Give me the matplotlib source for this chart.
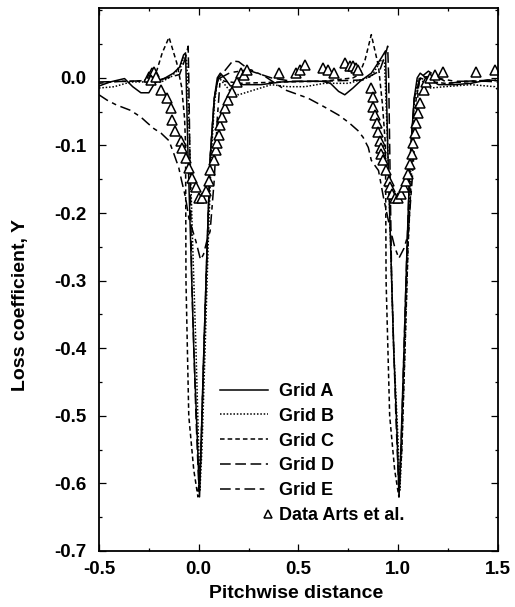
import matplotlib.pyplot as plt
from matplotlib.ticker import MultipleLocator

plt.rcParams['font.family'] = ['Liberation Sans', 'DejaVu Sans']
plt.rcParams['font.weight'] = 'bold'

# Grid A (solid)
xa = [-0.5, -0.444, -0.372, -0.331, -0.29, -0.25, -0.219, -0.168, -0.127, -0.096, -0.076, -0.066,
      -0.055, -0.04, -0.025, -0.009, 0.004, 0.011, 0.026, 0.042, 0.057, 0.078, 0.093, 0.108, 0.129,
      0.159, 0.21, 0.313, 0.415, 0.517, 0.62, 0.66, 0.701, 0.732, 0.773, 0.809, 0.865, 0.916, 0.936,
      0.947, 0.962, 0.977, 0.993, 1.004, 1.013, 1.029, 1.044, 1.059, 1.08, 1.095, 1.11, 1.131,
      1.202, 1.284, 1.366, 1.448, 1.5]
ya = [-0.012, -0.006, -0.001, -0.013, -0.022, -0.022, -0.007, 0.0, 0.007, 0.016, 0.034, 0.037,
      -0.1, -0.25, -0.4, -0.52, -0.62, -0.55, -0.4, -0.25, -0.12, -0.03, 0.0, 0.007, 0.0,
      -0.012, -0.01, -0.01, -0.006, -0.005, -0.005, -0.008, -0.02, -0.025, -0.015, -0.005, 0.007, 0.03, 0.04,
      -0.1, -0.25, -0.4, -0.52, -0.62, -0.55, -0.4, -0.25, -0.12, -0.03, 0.0, 0.007, 0.002,
      -0.01, -0.01, -0.008, -0.003, -0.004]

# Grid B (dotted)
xb = [-0.5, -0.423, -0.342, -0.275, -0.188, -0.137, -0.091, -0.076, -0.06,
      -0.045, -0.03, -0.014, -0.002, 0.006, 0.016, 0.032, 0.047, 0.062, 0.078, 0.093, 0.108,
      0.159, 0.2, 0.364, 0.446, 0.533, 0.63, 0.752, 0.865, 0.916, 0.931,
      0.947, 0.962, 0.977, 0.998, 1.008, 1.018, 1.034, 1.049, 1.064, 1.08, 1.095, 1.11,
      1.162, 1.233, 1.366, 1.484, 1.5]
yb = [-0.015, -0.013, -0.006, -0.006, -0.006, 0.002, 0.016, 0.03, 0.025,
      -0.1, -0.25, -0.4, -0.53, -0.61, -0.55, -0.4, -0.25, -0.12, -0.04, -0.005, -0.002,
      -0.02, -0.025, -0.01, -0.013, -0.013, -0.008, -0.008, 0.002, 0.027, 0.025,
      -0.1, -0.25, -0.4, -0.53, -0.61, -0.55, -0.4, -0.25, -0.12, -0.04, -0.005, -0.002,
      -0.015, -0.013, -0.01, -0.013, -0.018]

# Grid C (short dash)
xc = [-0.5, -0.403, -0.301, -0.229, -0.209, -0.183, -0.149, -0.11, -0.086, -0.071, -0.066,
      -0.064, -0.05, -0.025, -0.004, 0.011, 0.026, 0.042, 0.057, 0.078, 0.098, 0.129, 0.21,
      0.415, 0.62, 0.773, 0.804, 0.834, 0.865, 0.901, 0.921, 0.936,
      0.939, 0.957, 0.982, 1.003, 1.018, 1.034, 1.049, 1.07, 1.09, 1.11, 1.151, 1.233, 1.386, 1.489]
yc = [-0.008, -0.005, -0.005, 0.0, 0.012, 0.037, 0.06, 0.022, -0.013, -0.06, -0.1,
      -0.3, -0.5, -0.58, -0.62, -0.55, -0.4, -0.25, -0.12, -0.03, 0.0, -0.005, -0.008,
      -0.006, -0.005, 0.0, 0.005, 0.027, 0.064, 0.017, -0.04, -0.1,
      -0.3, -0.5, -0.58, -0.62, -0.55, -0.4, -0.25, -0.12, -0.03, 0.0, -0.005, -0.008, -0.005, -0.004]

# Grid D (long dash)
xd = [-0.5, -0.352, -0.199, -0.096, -0.066, -0.053, -0.05, -0.035, -0.014, 0.001, 0.011,
      0.026, 0.042, 0.057, 0.078, 0.098, 0.129, 0.17, 0.2, 0.262, 0.313, 0.364, 0.466, 0.62,
      0.824, 0.906, 0.936, 0.947, 0.952, 0.967, 0.988, 1.003, 1.013, 1.029, 1.044, 1.059,
      1.08, 1.11, 1.151, 1.202, 1.254, 1.335, 1.489]
yd = [-0.006, -0.005, -0.003, 0.005, 0.03, 0.047, 0.0, -0.3, -0.5, -0.61, -0.56,
      -0.4, -0.25, -0.12, -0.03, 0.0, 0.01, 0.025, 0.024, 0.01, 0.005, 0.0, -0.005, -0.005,
      -0.003, 0.01, 0.035, 0.047, 0.0, -0.3, -0.5, -0.61, -0.56, -0.4, -0.25, -0.12,
      -0.03, 0.0, 0.01, 0.0, -0.008, -0.005, -0.003]

# Grid E (dash-dot, wide wake)
xe = [-0.5, -0.459, -0.413, -0.342, -0.29, -0.26, -0.225, -0.188, -0.149, -0.125, -0.1,
      -0.086, -0.066, -0.05, -0.014, 0.009, 0.024, 0.04, 0.057, 0.078, 0.093, 0.108, 0.159,
      0.262, 0.333, 0.435, 0.548, 0.63, 0.701, 0.752, 0.798, 0.824, 0.85, 0.865, 0.891,
      0.901, 0.926, 0.957, 0.982, 1.003, 1.029, 1.049, 1.07, 1.09, 1.105, 1.151, 1.284, 1.438, 1.5]
ye = [-0.025, -0.033, -0.04, -0.048, -0.058, -0.066, -0.075, -0.082, -0.093, -0.112, -0.133,
      -0.152, -0.177, -0.207, -0.242, -0.269, -0.261, -0.242, -0.227, -0.15, -0.06, 0.0, 0.008,
      0.012, 0.002, -0.018, -0.03, -0.043, -0.055, -0.066, -0.078, -0.088, -0.103, -0.122, -0.133,
      -0.137, -0.177, -0.22, -0.25, -0.267, -0.252, -0.232, -0.15, -0.06, 0.0, 0.002, -0.005, -0.005, -0.006]

# Data Arts et al. (triangles)
x_data = [-0.25, -0.234, -0.224, -0.239, -0.215, -0.188,
          -0.158, -0.137, -0.132, -0.117, -0.091, -0.086, -0.066, -0.05, -0.035, -0.014, 0.0,
          0.016, 0.037, 0.05, 0.057, 0.075, 0.085, 0.091, 0.1, 0.108, 0.115, 0.134, 0.149,
          0.167, 0.19, 0.21, 0.226, 0.241,
          0.40, 0.487, 0.507, 0.533, 0.625, 0.65, 0.676, 0.735, 0.76, 0.773, 0.788, 0.798,
          0.865, 0.875, 0.875, 0.885, 0.891, 0.901, 0.911, 0.916, 0.916, 0.926, 0.937, 0.952, 0.957,
          0.967, 0.983, 0.998, 1.013, 1.029, 1.041, 1.049, 1.059, 1.07, 1.075, 1.085, 1.09, 1.1,
          1.11, 1.131, 1.141, 1.161, 1.182, 1.223, 1.392, 1.484]
y_data = [0.001, 0.007, 0.009, -0.003, 0.002, -0.018,
          -0.03, -0.045, -0.063, -0.078, -0.093, -0.103, -0.118, -0.133, -0.148, -0.162, -0.177,
          -0.177, -0.167, -0.152, -0.137, -0.122, -0.107, -0.097, -0.085, -0.07, -0.058, -0.045, -0.033,
          -0.021, -0.006, 0.007, 0.005, 0.012,
          0.007, 0.007, 0.012, 0.019, 0.015, 0.012, 0.007, 0.022, 0.017, 0.017, 0.015, 0.012,
          -0.015, -0.028, -0.043, -0.055, -0.067, -0.08, -0.093, -0.103, -0.112, -0.122, -0.137, -0.152, -0.162,
          -0.172, -0.177, -0.177, -0.172, -0.162, -0.152, -0.142, -0.127, -0.112, -0.097, -0.082, -0.067, -0.052,
          -0.037, -0.018, -0.006, 0.0, 0.005, 0.009, 0.009, 0.012]

fig = plt.figure(figsize=(5.15, 6.07), dpi=100)
ax = fig.add_axes([0.1922, 0.0923, 0.7748, 0.8946])

lw = 1.1
ax.plot(xa, ya, color='black', linestyle='-', linewidth=lw, label='Grid A')
ax.plot(xb, yb, color='black', linestyle=(0, (1, 1.2)), linewidth=lw, label='Grid B')
ax.plot(xc, yc, color='black', linestyle=(0, (3, 2)), linewidth=lw, label='Grid C')
ax.plot(xd, yd, color='black', linestyle=(0, (7, 3)), linewidth=lw, label='Grid D')
ax.plot(xe, ye, color='black', linestyle=(0, (7, 3, 3, 3)), linewidth=lw, label='Grid E')
ax.plot(x_data, y_data, linestyle='none', marker='^', markersize=7, markerfacecolor='white',
        markeredgecolor='black', markeredgewidth=1.1, label='Data Arts et al.')

ax.set_xlim(-0.5, 1.5)
ax.set_ylim(-0.7, 0.1035)
ax.set_yticks([-0.7, -0.6, -0.5, -0.4, -0.3, -0.2, -0.1, 0.0])
ax.set_yticklabels(['-0.7', '-0.6', '-0.5', '-0.4', '-0.3', '-0.2', '-0.1', '0.0'])
ax.set_xticks([-0.5, 0.0, 0.5, 1.0, 1.5])
ax.set_xticklabels(['-0.5', '0.0', '0.5', '1.0', '1.5'])
ax.xaxis.set_minor_locator(MultipleLocator(0.25))
ax.yaxis.set_minor_locator(MultipleLocator(0.05))
ax.tick_params(which='both', direction='in', top=True, right=True, labelsize=13.5)
ax.tick_params(which='major', length=5, width=0.9)
ax.tick_params(which='minor', length=2.2, width=0.9)
ax.tick_params(axis='y', which='major', pad=9)
ax.tick_params(axis='x', which='major', pad=7)
for s in ax.spines.values():
    s.set_linewidth(1.3)

ax.set_xlabel('Pitchwise distance', fontsize=14, fontweight='bold')
ax.set_ylabel('Loss coefficient, Y', fontsize=14, fontweight='bold')
ax.xaxis.set_label_coords(0.495, -0.063)
ax.yaxis.set_label_coords(-0.175, 0.453)

leg = ax.legend(loc='upper left', bbox_to_anchor=(220 / 515, 1 - 383 / 607),
                bbox_transform=fig.transFigure, frameon=False, fontsize=13,
                handlelength=2.66, handletextpad=0.6, labelspacing=0.43,
                borderpad=0, borderaxespad=0, markerscale=0.75)
leg.legend_handles[-1].set_markevery([2])

fig.savefig('out.png', dpi=100)
